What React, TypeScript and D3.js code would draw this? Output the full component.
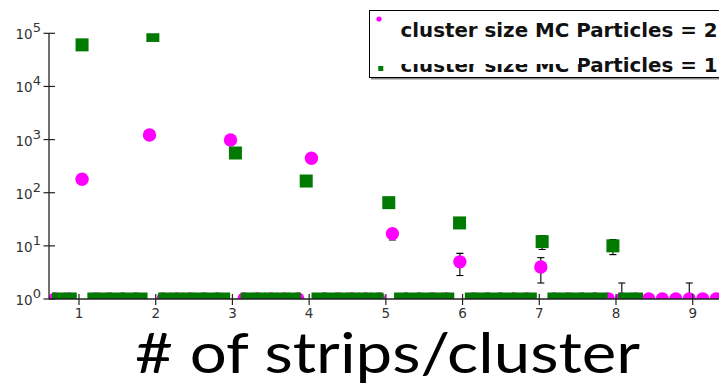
import React from 'react';
import * as d3 from 'd3';

// Histogram bins (counts per bin); zero bins drawn at the axis floor
const MAG_BIN_START = 0.688;
const MAG_BIN_WIDTH = 0.1759;
const magentaCounts = [
  0, 0, 179, 0, 0, 0, 0, 1220, 0, 0,
  0, 0, 0, 982, 0, 0, 0, 0, 0, 444,
  0, 0, 0, 0, 0, 17, 0, 0, 0, 0,
  5, 0, 0, 0, 0, 0, 4, 0, 0, 0,
  0, 0, 1, 0, 0, 0, 0, 1, 0, 0,
];

const GRN_BIN_START = 0.7324;
const GRN_BIN_WIDTH = 0.15378;
const greenCounts = [
  0, 0, 60600, 0, 0, 0, 0, 0, 91000, 0,
  0, 0, 0, 0, 0, 559, 0, 0, 0, 0,
  0, 166, 0, 0, 0, 0, 0, 0, 65, 0,
  0, 0, 0, 0, 27, 0, 0, 0, 0, 0,
  0, 12, 0, 0, 0, 0, 0, 10, 0, 0,
];

const xTickValues = [1, 2, 3, 4, 5, 6, 7, 8, 9];
const yTickExponents = [0, 1, 2, 3, 4, 5];
const legendLabels = ['cluster size MC Particles = 2', 'cluster size MC Particles = 1'];
const xTitle = '# of strips/cluster';

const MAGENTA = '#ff00ff';
const GREEN = '#007a00';
const AXIS = '#222';

export default function App() {
  const W = 719;
  const H = 388;
  const x = d3.scaleLinear().domain([1, 9]).range([79, 692.7]);
  const y = d3.scaleLog().domain([1, 1e5]).range([299, 33.3]);
  const yFloor = y(1);
  const plotLeft = 49;
  const plotTop = y(1e5);

  const toPoints = (counts: number[], start: number, width: number) =>
    counts.map((c, i) => ({ xv: start + i * width, c }));
  const magPts = toPoints(magentaCounts, MAG_BIN_START, MAG_BIN_WIDTH);
  const grnPts = toPoints(greenCounts, GRN_BIN_START, GRN_BIN_WIDTH);

  const py = (c: number) => (c <= 1 ? yFloor : y(c));
  const errBars = [...magPts, ...grnPts]
    .filter((p) => p.c > 0)
    .map((p) => {
      const s = Math.sqrt(p.c);
      const lo = p.c - s > 0 ? y(p.c - s) : yFloor + 200;
      const hi = y(p.c + s);
      return { cx: x(p.xv), lo, hi };
    });

  const sq = 13;
  const r = 6.7;

  return (
    <svg width={W} height={H} style={{ position: 'absolute', left: 0, top: 0, background: '#fff' }}>
      <defs>
        <clipPath id="plotClip">
          <rect x={plotLeft} y={plotTop} width={W - plotLeft} height={yFloor - plotTop} />
        </clipPath>
      </defs>
      <rect x={0} y={0} width={W} height={H} fill="#fff" />
      <g clipPath="url(#plotClip)">
        {errBars.map((e, i) => (
          <g key={'e' + i} stroke="#000" strokeWidth={1.1}>
            <line x1={e.cx} x2={e.cx} y1={e.lo} y2={e.hi} />
            <line x1={e.cx - 3.5} x2={e.cx + 3.5} y1={e.hi} y2={e.hi} />
            <line x1={e.cx - 3.5} x2={e.cx + 3.5} y1={e.lo} y2={e.lo} />
          </g>
        ))}
        {magPts.map((p, i) => (
          <circle key={'m' + i} cx={x(p.xv)} cy={py(p.c)} r={r} fill={MAGENTA} />
        ))}
        {grnPts.map((p, i) => (
          <rect key={'g' + i} x={x(p.xv) - sq / 2} y={py(p.c) - sq / 2} width={sq} height={sq} fill={GREEN} />
        ))}
      </g>
      {/* axes */}
      <line x1={plotLeft} x2={plotLeft} y1={plotTop} y2={yFloor} stroke={AXIS} strokeWidth={1.3} />
      <line x1={plotLeft} x2={W} y1={yFloor} y2={yFloor} stroke={AXIS} strokeWidth={1.3} />
      {yTickExponents.map((e) => {
        const yy = y(Math.pow(10, e));
        return (
          <g key={'yt' + e}>
            <line x1={43.5} x2={55} y1={yy} y2={yy} stroke={AXIS} strokeWidth={1.2} />
            <text x={41} y={yy + 6} textAnchor="end" fontFamily="DejaVu Sans" fontSize={13.5} fill="#333">
              10<tspan dy={-7} fontSize={13}>{e}</tspan>
            </text>
          </g>
        );
      })}
      {xTickValues.map((v) => (
        <g key={'xt' + v}>
          <line x1={x(v)} x2={x(v)} y1={294} y2={305} stroke={AXIS} strokeWidth={1.2} />
          <text x={x(v)} y={318} textAnchor="middle" fontFamily="DejaVu Sans" fontSize={13.5} fill="#333">
            {v}
          </text>
        </g>
      ))}
      {/* legend */}
      <rect x={371} y={12.5} width={360} height={67} fill="#888" />
      <rect x={369.5} y={10.5} width={360} height={67} fill="#fff" stroke="#000" strokeWidth={1} />
      <circle cx={379} cy={19} r={2.6} fill={MAGENTA} />
      <rect x={378.3} y={66} width={5} height={5} fill={GREEN} />
      <text x={400.5} y={36.5} fontFamily="DejaVu Sans" fontWeight="bold" fontSize={20} fill="#111"
        textLength={317} lengthAdjust="spacingAndGlyphs">{legendLabels[0]}</text>
      <text x={400.5} y={71.5} fontFamily="DejaVu Sans" fontWeight="bold" fontSize={20} fill="#111"
        textLength={317} lengthAdjust="spacingAndGlyphs">{legendLabels[1]}</text>
      <rect x={396} y={38} width={183} height={26} fill="#fff" />
      {/* x title */}
      <text x={135} y={373} fontFamily="Lato" fontSize={56} fill="#000"
        textLength={505} lengthAdjust="spacingAndGlyphs">{xTitle}</text>
    </svg>
  );
}
